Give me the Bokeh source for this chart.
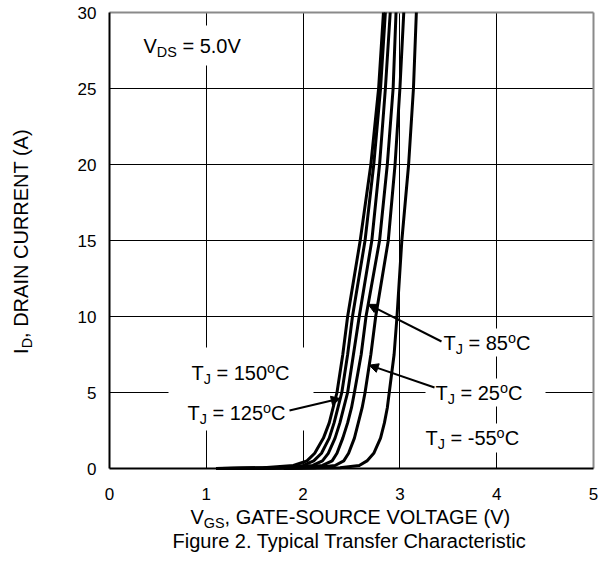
import numpy as np
from bokeh.plotting import figure
from bokeh.models import Label, Arrow, NormalHead, BoxAnnotation, FixedTicker, Range1d, Grid
from bokeh.embed import file_html
from bokeh.resources import INLINE

# ---------------- data ----------------
x_ticks = [0, 1, 2, 3, 4, 5]
y_ticks = [0, 5, 10, 15, 20, 25, 30]
id_pts = [0, 0.05, 0.2, 0.5, 1, 2, 3, 4, 5, 7.5, 10, 15, 20, 25, 30]
vgs_150 = [1.10, 1.59, 1.90, 2.04, 2.12, 2.21, 2.27, 2.31, 2.35, 2.41, 2.46, 2.59, 2.70, 2.78, 2.83]
vgs_125 = [1.10, 1.70, 2.00, 2.11, 2.19, 2.27, 2.32, 2.36, 2.40, 2.46, 2.51, 2.64, 2.73, 2.80, 2.85]
vgs_100 = [1.15, 1.85, 2.10, 2.20, 2.26, 2.33, 2.38, 2.42, 2.46, 2.52, 2.58, 2.71, 2.79, 2.85, 2.90]
vgs_85 = [1.20, 1.98, 2.20, 2.30, 2.35, 2.41, 2.46, 2.50, 2.53, 2.60, 2.65, 2.79, 2.87, 2.93, 2.96]
vgs_25 = [1.40, 2.12, 2.33, 2.42, 2.47, 2.53, 2.57, 2.61, 2.64, 2.70, 2.75, 2.88, 2.95, 3.00, 3.04]
vgs_m55 = [1.80, 2.38, 2.58, 2.66, 2.73, 2.80, 2.84, 2.87, 2.89, 2.94, 2.97, 3.02, 3.09, 3.14, 3.17]
curves = [vgs_150, vgs_125, vgs_100, vgs_85, vgs_25, vgs_m55]

FONT = "Liberation Sans"
FS = 20       # annotation / title size
FS_TICK = 17  # tick label size

# ---------------- geometry: the frame fills the whole canvas ----------------
WIDTH, HEIGHT = 610, 578
PX0, PX1 = 109.0, 593.0     # picture x of data x = 0 and 5
PY0, PY1 = 468.0, 12.0      # picture y of data y = 0 and 30
SX = (PX1 - PX0) / (x_ticks[-1] - x_ticks[0])
SY = (PY0 - PY1) / (y_ticks[-1] - y_ticks[0])


def dx(px):
    return (px - PX0) / SX


def dy(py):
    return (PY0 - py) / SY


p = figure(width=WIDTH, height=HEIGHT,
           x_range=Range1d(dx(0), dx(WIDTH)), y_range=Range1d(dy(HEIGHT), dy(0)),
           output_backend="svg", toolbar_location=None,
           min_border=0, min_border_left=0, min_border_right=0,
           min_border_top=0, min_border_bottom=0)
p.background_fill_color = "white"
p.border_fill_color = "white"
p.outline_line_color = None

for ax, t in ((p.xaxis, x_ticks), (p.yaxis, y_ticks)):
    ax.fixed_location = 0
    ax.bounds = (t[0], t[-1])
    ax.ticker = FixedTicker(ticks=t)
    ax.axis_line_color = "black"
    ax.axis_line_width = 2
    ax.major_tick_line_color = None
    ax.minor_tick_line_color = None
    ax.major_label_text_font = FONT
    ax.major_label_text_font_size = f"{FS_TICK}px"
    ax.major_label_text_color = "black"
p.xaxis.major_label_standoff = 13
p.yaxis.major_label_standoff = 7

p.xgrid.ticker = FixedTicker(ticks=x_ticks[1:-1])
p.ygrid.ticker = FixedTicker(ticks=y_ticks[1:-1])
p.grid.grid_line_color = "black"
p.grid.grid_line_width = 1
if "cross_bounds" in Grid.properties():
    p.xgrid.cross_bounds = (y_ticks[0], y_ticks[-1])
    p.ygrid.cross_bounds = (x_ticks[0], x_ticks[-1])
    p.xgrid.bounds = (x_ticks[0], x_ticks[-1])
    p.ygrid.bounds = (y_ticks[0], y_ticks[-1])
else:
    p.grid.visible = False
    gx = x_ticks[1:-1]
    gy = y_ticks[1:-1]
    p.segment(x0=gx, y0=[y_ticks[0]] * len(gx), x1=gx, y1=[y_ticks[-1]] * len(gx),
              line_color="black", line_width=1, level="underlay")
    p.segment(x0=[x_ticks[0]] * len(gy), y0=gy, x1=[x_ticks[-1]] * len(gy), y1=gy,
              line_color="black", line_width=1, level="underlay")

# gray top / right frame border
p.segment(x0=[x_ticks[0], x_ticks[-1]], y0=[y_ticks[-1], y_ticks[0]],
          x1=[x_ticks[-1], x_ticks[-1]], y1=[y_ticks[-1], y_ticks[-1]],
          line_color="#8a8a8a", line_width=2)

# ---------------- text helpers ----------------
W = {' ': 278, ',': 278, '-': 333, '.': 278, '(': 333, ')': 333, '=': 584,
     'A': 667, 'C': 722, 'D': 722, 'E': 667, 'F': 611, 'G': 778, 'I': 278, 'J': 500,
     'L': 556, 'N': 722, 'O': 778, 'R': 722, 'S': 667, 'T': 611, 'U': 722, 'V': 667,
     'a': 556, 'c': 500, 'e': 556, 'f': 278, 'g': 556, 'h': 556, 'i': 222, 'l': 222,
     'n': 556, 'o': 556, 'p': 556, 'r': 333, 's': 500, 't': 278, 'u': 556, 'y': 500}


def tw(s, size):
    return sum(W.get(ch, 556) for ch in s) * size / 1000.0


def part_size(kind, size):
    return size if kind == "n" else size * 0.72


def rich_width(parts, size):
    return sum(tw(t, part_size(k, size)) for t, k in parts)


def rich(px, py, parts, size, angle=0.0):
    cur = 0.0
    for text, kind in parts:
        s = part_size(kind, size)
        lead = len(text) - len(text.lstrip(" "))
        cur += tw(" " * lead, s)
        body = text.lstrip(" ")
        off = 0.0 if kind == "n" else (0.30 * size if kind == "sub" else -0.24 * size)
        if angle == 0:
            x, y = px + cur, py + off
        else:
            x, y = px + off, py - cur
        p.add_layout(Label(x=dx(x), y=dy(y), text=body, text_font=FONT,
                           text_font_size=f"{s:.1f}px", text_color="black",
                           text_align="left", text_baseline="middle", angle=angle))
        cur += tw(body, s)


def white_box(l, r, t, b):
    p.add_layout(BoxAnnotation(left=dx(l), right=dx(r), top=dy(t), bottom=dy(b),
                               fill_color="white", fill_alpha=1.0, line_color=None,
                               level="underlay"))


# white boxes behind annotation texts (they interrupt the grid)
white_box(128, 262, 25, 65)
white_box(168, 313, 347, 430)
white_box(433, 552, 328, 356)
white_box(425, 545, 378, 406)
white_box(415, 550, 423, 452)

# ---------------- curves ----------------
for v in curves:
    p.line(v, id_pts, line_color="black", line_width=3, line_join="round")

# ---------------- annotations ----------------
rich(143, 45, [("V", "n"), ("DS", "sub"), (" = 5.0V", "n")], FS)
rich(191, 372, [("T", "n"), ("J", "sub"), (" = 150", "n"), ("o", "sup"), ("C", "n")], FS)
rich(187, 412, [("T", "n"), ("J", "sub"), (" = 125", "n"), ("o", "sup"), ("C", "n")], FS)
rich(443, 342, [("T", "n"), ("J", "sub"), (" = 85", "n"), ("o", "sup"), ("C", "n")], FS)
rich(435, 392, [("T", "n"), ("J", "sub"), (" = 25", "n"), ("o", "sup"), ("C", "n")], FS)
rich(425, 437, [("T", "n"), ("J", "sub"), (" = -55", "n"), ("o", "sup"), ("C", "n")], FS)


def arrow(px, py, curve, id_target):
    xe = float(np.interp(id_target, id_pts, curve))
    p.add_layout(Arrow(x_start=dx(px), y_start=dy(py), x_end=xe, y_end=id_target,
                       line_color="black", line_width=2,
                       end=NormalHead(size=9, line_color="black", fill_color="black")))


arrow(441, 341, vgs_85, 10.8)
arrow(434, 387, vgs_25, 6.8)
arrow(289, 410, vgs_125, 4.6)

# axis titles and caption
xl_parts = [("V", "n"), ("GS", "sub"), (", GATE-SOURCE VOLTAGE (V)", "n")]
xw = rich_width(xl_parts, FS)
rich(352 - xw / 2, 516, xl_parts, FS)

yl_parts = [("I", "n"), ("D", "sub"), (", DRAIN CURRENT (A)", "n")]
yw = rich_width(yl_parts, FS)
rich(20, 241 + yw / 2, yl_parts, FS, angle=np.pi / 2)

p.add_layout(Label(x=dx(349), y=dy(540), text="Figure 2. Typical Transfer Characteristic",
                   text_font=FONT, text_font_size=f"{FS}px", text_color="black",
                   text_align="center", text_baseline="middle"))

open("out.html", "w").write(file_html(p, INLINE))
